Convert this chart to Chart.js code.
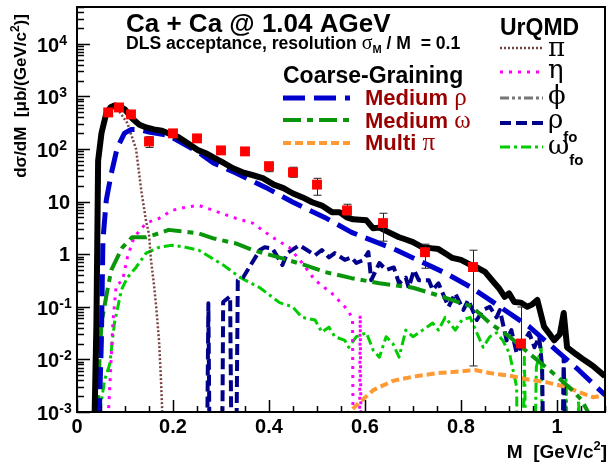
<!DOCTYPE html>
<html>
<head>
<meta charset="utf-8">
<script src="https://cdn.jsdelivr.net/npm/chart.js@4.4.1/dist/chart.umd.min.js"></script>
<style>
  html, body { margin: 0; padding: 0; background: #fff; overflow: hidden; }
  canvas { display: block; }
</style>
</head>
<body>
<canvas id="dilepton" width="612" height="467"></canvas>
<script>
// DLS data points (dsigma/dM in mub/(GeV/c^2)) with lower / upper error bounds
const massBins = [0.065, 0.0875, 0.1125, 0.15, 0.2, 0.25, 0.3, 0.35, 0.4, 0.45, 0.5, 0.5625, 0.6375, 0.725, 0.825, 0.925];
const dlsYield = [495, 616, 454, 139, 198, 159, 94, 90, 47, 36, 21, 6.8, 3.9, 1.09, 0.57, 0.020];
const dlsLow   = [440, 560, 410, 107, 180, 145, 86, 82, 37, 29, 13.2, 5.5, 1.77, 0.54, 0.0075, 0.0001];
const dlsHigh  = [550, 680, 500, 171, 216, 173, 102, 98, 56, 45, 27.7, 8.9, 6.0, 1.55, 1.19, 0.099];

// sum of all contributions
const totalM = [0.0365, 0.0405, 0.044, 0.051, 0.061, 0.070, 0.078, 0.090, 0.100, 0.115, 0.130, 0.144, 0.160, 0.177, 0.195, 0.210, 0.230, 0.253, 0.270, 0.284, 0.300, 0.325, 0.345, 0.365, 0.387, 0.410, 0.430, 0.449, 0.470, 0.490, 0.510, 0.531, 0.547, 0.562, 0.575, 0.603, 0.617, 0.630, 0.650, 0.671, 0.685, 0.700, 0.720, 0.741, 0.753, 0.770, 0.782, 0.800, 0.815, 0.830, 0.850, 0.870, 0.880, 0.891, 0.900, 0.911, 0.925, 0.938, 0.948, 0.959, 0.973, 0.985, 0.994, 1.006, 1.014, 1.021, 1.040, 1.056, 1.075, 1.100];
const totalV = [0.0007, 0.05, 60, 200, 475, 620, 670, 640, 560, 380, 290, 257, 235, 222, 190, 170, 130, 94, 82, 69, 58, 43, 36, 32, 28, 21, 18, 14.4, 12, 9.7, 8.4, 6.3, 6.3, 5.0, 4.6, 4.4, 3.1, 3.2, 2.6, 2.1, 1.9, 1.7, 1.35, 1.29, 1.25, 1.0, 0.85, 0.78, 0.66, 0.58, 0.46, 0.28, 0.22, 0.155, 0.18, 0.123, 0.12, 0.10, 0.11, 0.135, 0.042, 0.03, 0.023, 0.03, 0.076, 0.017, 0.0125, 0.0098, 0.0075, 0.0048];

// coarse-graining: in-medium rho
const medRhoM = [0.046, 0.0508, 0.054, 0.061, 0.0714, 0.084, 0.099, 0.113, 0.130, 0.150, 0.191, 0.253, 0.284, 0.331, 0.393, 0.449, 0.516, 0.572, 0.665, 0.767, 0.819, 0.860, 0.942, 0.998, 1.045, 1.100];
const medRhoV = [0.0007, 0.023, 1.85, 10.6, 34, 107, 200, 235, 235, 210, 180, 87, 54, 35, 18.6, 9.8, 5.0, 2.6, 1.2, 0.44, 0.24, 0.135, 0.042, 0.015, 0.0063, 0.0021];

// coarse-graining: in-medium omega
const medOmegaM = [0.043, 0.047, 0.051, 0.061, 0.0714, 0.0817, 0.0947, 0.115, 0.144, 0.171, 0.191, 0.212, 0.253, 0.284, 0.331, 0.366, 0.428, 0.475, 0.516, 0.572, 0.630, 0.700, 0.767, 0.823, 0.860, 0.901, 0.942, 0.984, 1.025, 1.051, 1.066];
const medOmegaV = [0.00095, 0.011, 0.049, 0.16, 0.50, 0.78, 1.35, 2.1, 2.1, 2.5, 2.9, 2.75, 2.5, 2.0, 1.6, 1.2, 0.83, 0.62, 0.46, 0.35, 0.28, 0.23, 0.15, 0.10, 0.049, 0.027, 0.013, 0.0063, 0.003, 0.0017, 0.00095];

// coarse-graining: multi-pion
const multiPiM = [0.556, 0.588, 0.617, 0.658, 0.700, 0.753, 0.788, 0.829, 0.860, 0.901, 0.942, 0.977, 1.019, 1.045, 1.076, 1.100];
const multiPiV = [0.0008, 0.0015, 0.0026, 0.0039, 0.0047, 0.0055, 0.0058, 0.0063, 0.0055, 0.0049, 0.0041, 0.0037, 0.003, 0.0024, 0.0019, 0.0021];

// UrQMD pi0 Dalitz
const piM = [0.068, 0.076, 0.088, 0.105, 0.123, 0.134, 0.144, 0.150, 0.154, 0.160, 0.165, 0.171, 0.175, 0.178];
const piV = [520, 600, 520, 309, 100, 16, 4.2, 2.4, 0.8, 0.28, 0.1, 0.022, 0.004, 0.0008];

// UrQMD eta Dalitz
const etaM = [0.065, 0.0714, 0.0747, 0.0817, 0.0947, 0.105, 0.119, 0.144, 0.171, 0.198, 0.226, 0.253, 0.284, 0.325, 0.366, 0.407, 0.442, 0.469, 0.496, 0.531, 0.558, 0.574, 0.578, 0.585, 0.590, 0.596];
const etaV = [0.0008, 0.011, 0.049, 0.26, 0.31, 0.87, 2.1, 3.9, 4.8, 6.8, 7.8, 8.5, 6.8, 5.0, 3.9, 2.1, 1.35, 0.68, 0.32, 0.18, 0.10, 0.062, 1e-9, 1e-9, 0.07, 1e-9];

// UrQMD freeze-out rho
const rhoFoM = [0.266, 0.2737, 0.281, 0.299, 0.3045, 0.319, 0.327, 0.335, 0.346, 0.381, 0.391, 0.407, 0.428, 0.438, 0.463, 0.479, 0.496, 0.510, 0.525, 0.537, 0.558, 0.572, 0.582, 0.597, 0.607, 0.613, 0.630, 0.644, 0.660, 0.671, 0.685, 0.691, 0.702, 0.712, 0.733, 0.741, 0.753, 0.774, 0.788, 0.805, 0.815, 0.833, 0.846, 0.860, 0.874, 0.881, 0.895, 0.905, 0.916, 0.928, 0.942, 0.953, 0.963, 0.969, 0.979, 1.004, 1.014, 1.025];
const rhoFoV = [1e-9, 0.117, 1e-9, 1e-9, 0.123, 0.158, 1e-9, 0.32, 0.36, 1.2, 1.35, 1.29, 0.62, 1.05, 1.48, 1.2, 0.95, 1.2, 0.87, 1.05, 0.78, 0.87, 0.68, 0.78, 1.1, 0.32, 0.68, 0.50, 0.56, 0.28, 0.36, 0.23, 0.50, 0.32, 0.32, 0.21, 0.28, 0.10, 0.18, 0.087, 0.135, 0.056, 0.087, 0.10, 0.063, 0.087, 0.023, 0.036, 0.013, 0.020, 0.032, 0.017, 0.027, 0.0072, 1e-9, 1e-9, 0.011, 1e-9];

// UrQMD freeze-out omega
const omegaFoM = [0.047, 0.0576, 0.068, 0.078, 0.0926, 0.105, 0.123, 0.144, 0.171, 0.198, 0.226, 0.253, 0.305, 0.340, 0.381, 0.422, 0.449, 0.469, 0.496, 0.510, 0.525, 0.537, 0.558, 0.566, 0.582, 0.603, 0.617, 0.630, 0.644, 0.658, 0.671, 0.685, 0.700, 0.720, 0.741, 0.753, 0.767, 0.788, 0.802, 0.819, 0.846, 0.860, 0.874, 0.887, 0.901, 0.916, 0.921, 0.932, 0.944, 0.957, 0.967, 0.977, 1.014, 1.019, 1.031, 1.045, 1.060];
const omegaFoV = [0.00095, 0.0041, 0.008, 0.049, 0.21, 0.36, 0.56, 1.05, 1.35, 1.48, 1.35, 1.2, 0.62, 0.36, 0.23, 0.12, 0.10, 0.063, 0.056, 0.033, 0.041, 0.027, 0.023, 0.017, 0.027, 0.032, 0.015, 0.011, 0.027, 0.020, 0.011, 0.036, 0.027, 0.036, 0.049, 0.036, 0.063, 0.036, 0.056, 0.063, 0.017, 0.027, 0.032, 0.023, 0.013, 0.003, 1e-9, 0.011, 1e-9, 0.0072, 0.017, 1e-9, 1e-9, 0.0041, 1e-9, 0.0017, 1e-9];

const xTickLabels = ['0', '0.2', '0.4', '0.6', '0.8', '1'];
const yDecades = [-3, -2, -1, 0, 1, 2, 3, 4];

const BOLD = s => `bold ${s}px "Liberation Sans", Arial, sans-serif`;
const SERIF = s => `${s}px "Liberation Serif", "DejaVu Serif", serif`;
const SYMB = s => `${s}px "DejaVu Serif", "Liberation Serif", serif`;
const DARKRED = '#990000';

const STYLE = {
  total:    { color: '#000000', width: 6, dash: [] },
  medRho:   { color: '#0000cd', width: 5, dash: [22, 9] },
  medOmega: { color: '#0a960a', width: 4, dash: [18, 6, 6, 6] },
  multiPi:  { color: '#ff9933', width: 4, dash: [8, 4] },
  pi:       { color: '#7a4444', width: 2.5, dash: [2, 2] },
  eta:      { color: '#ff00ff', width: 3, dash: [3, 6] },
  phi:      { color: '#777777', width: 3, dash: [9, 3, 3, 3, 3, 3] },
  rhoFo:    { color: '#00008b', width: 4, dash: [11, 5] },
  omegaFo:  { color: '#00cc00', width: 3, dash: [10, 4, 3, 4] }
};

function curve(label, xs, ys, st) {
  return {
    label,
    data: xs.map((m, i) => ({ x: m, y: ys[i] })),
    showLine: true,
    borderColor: st.color,
    borderWidth: st.width,
    borderDash: st.dash,
    borderJoinStyle: 'round',
    pointRadius: 0,
    tension: 0,
    fill: false,
    clip: 0
  };
}

function drawRuns(ctx, x, y, runs, align) {
  let w = 0;
  runs.forEach(r => { ctx.font = r.f; w += ctx.measureText(r.t).width; });
  let cx = align === 'right' ? x - w : align === 'center' ? x - w / 2 : x;
  runs.forEach(r => {
    ctx.font = r.f;
    ctx.fillStyle = r.c || '#000';
    ctx.fillText(r.t, cx, y + (r.dy || 0));
    cx += ctx.measureText(r.t).width;
  });
}

function legendLine(ctx, x0, x1, y, st) {
  ctx.save();
  ctx.strokeStyle = st.color;
  ctx.lineWidth = st.width;
  ctx.setLineDash(st.dash);
  ctx.beginPath();
  ctx.moveTo(x0, y);
  ctx.lineTo(x1, y);
  ctx.stroke();
  ctx.restore();
}

const rootStyle = {
  id: 'rootStyle',
  // error bars go over the curves but under the markers
  afterDatasetDraw(chart, args) {
    if (args.index !== 1) return;
    const { ctx, chartArea: a, scales: { x, y } } = chart;
    ctx.save();
    ctx.beginPath();
    ctx.rect(a.left, a.top, a.right - a.left, a.bottom - a.top);
    ctx.clip();
    ctx.strokeStyle = '#222';
    ctx.lineWidth = 1;
    massBins.forEach((m, i) => {
      const px = Math.round(x.getPixelForValue(m)) + 0.5;
      const yHi = y.getPixelForValue(dlsHigh[i]);
      const yLo = Math.min(y.getPixelForValue(dlsLow[i]), a.bottom);
      ctx.beginPath();
      ctx.moveTo(px, yHi);
      ctx.lineTo(px, yLo);
      ctx.moveTo(px - 4, yHi);
      ctx.lineTo(px + 4, yHi);
      if (yLo < a.bottom - 1) {
        ctx.moveTo(px - 4, yLo);
        ctx.lineTo(px + 4, yLo);
      }
      ctx.stroke();
    });
    ctx.restore();
  },
  afterDatasetsDraw(chart) {
    const { ctx, chartArea: a, scales: { x, y } } = chart;
    ctx.save();
    ctx.strokeStyle = '#000';
    ctx.lineWidth = 2;
    ctx.strokeRect(a.left, a.top, a.right - a.left, a.bottom - a.top);

    // log ticks on the left axis
    ctx.lineWidth = 1.5;
    ctx.beginPath();
    for (let e = -3; e <= 4; e++) {
      for (let k = 1; k <= 9; k++) {
        const v = k * Math.pow(10, e);
        if (v > y.max) break;
        const py = Math.round(y.getPixelForValue(v)) + 0.5;
        ctx.moveTo(a.left, py);
        ctx.lineTo(a.left + (k === 1 ? 13 : 7), py);
      }
    }
    // mass ticks on the bottom axis
    for (let i = 0; i * 0.05 <= x.max + 1e-9; i++) {
      const px = Math.round(x.getPixelForValue(i * 0.05)) + 0.5;
      ctx.moveTo(px, a.bottom);
      ctx.lineTo(px, a.bottom - (i % 4 === 0 ? 12 : 6));
    }
    ctx.stroke();
    ctx.restore();
  },
  afterDraw(chart) {
    const { ctx, scales: { x, y } } = chart;
    ctx.save();
    ctx.textBaseline = 'alphabetic';

    // axis numbers
    xTickLabels.forEach((t, i) => {
      drawRuns(ctx, x.getPixelForValue(i * 0.2), 433, [{ t, f: BOLD(20) }], 'center');
    });
    yDecades.forEach(e => {
      const py = y.getPixelForValue(Math.pow(10, e));
      if (e === 0) drawRuns(ctx, 70, py + 7, [{ t: '1', f: BOLD(20) }], 'right');
      else if (e === 1) drawRuns(ctx, 70, py + 7, [{ t: '10', f: BOLD(20) }], 'right');
      else drawRuns(ctx, 37, py + 8, [
        { t: '10', f: BOLD(20) },
        { t: e < 0 ? '-' + (-e) : String(e), f: BOLD(14), dy: -7 }
      ], 'left');
    });

    // axis titles
    drawRuns(ctx, 607, 458, [
      { t: 'M  [GeV/c', f: BOLD(19) },
      { t: '2', f: BOLD(13), dy: -8 },
      { t: ']', f: BOLD(19) }
    ], 'right');
    ctx.save();
    ctx.translate(26, 96);
    ctx.rotate(-Math.PI / 2);
    drawRuns(ctx, 0, 0, [
      { t: 'd\u03c3/dM  [\u03bcb/(GeV/c', f: BOLD(17) },
      { t: '2', f: BOLD(12), dy: -7 },
      { t: ')]', f: BOLD(17) }
    ], 'center');
    ctx.restore();

    // header
    drawRuns(ctx, 126, 32, [{ t: 'Ca + Ca @ 1.04 AGeV', f: BOLD(26) }], 'left');
    drawRuns(ctx, 126, 49, [
      { t: 'DLS acceptance, resolution ', f: BOLD(17.6) },
      { t: '\u03c3', f: SERIF(20) },
      { t: 'M', f: BOLD(11), dy: 4 },
      { t: ' / M  = 0.1', f: BOLD(17.6) }
    ], 'left');

    // coarse-graining legend
    drawRuns(ctx, 283, 83, [{ t: 'Coarse-Graining', f: BOLD(23) }], 'left');
    [
      ['Medium ', '\u03c1', STYLE.medRho, 98, 105],
      ['Medium ', '\u03c9', STYLE.medOmega, 120, 128],
      ['Multi ', '\u03c0', STYLE.multiPi, 143, 150]
    ].forEach(([word, sym, st, ly, base]) => {
      legendLine(ctx, 283, 350, ly, st);
      drawRuns(ctx, 365, base, [
        { t: word, f: BOLD(22), c: DARKRED },
        { t: sym, f: SERIF(25), c: DARKRED }
      ], 'left');
    });

    // UrQMD legend
    drawRuns(ctx, 500, 35, [{ t: 'UrQMD', f: BOLD(23) }], 'left');
    [
      ['\u03c0', '', STYLE.pi, 48, 56, 0],
      ['\u03b7', '', STYLE.eta, 72, 78, 0],
      ['\u03d5', '', STYLE.phi, 98, 104, 0],
      ['\u03c1', 'fo', STYLE.rhoFo, 123, 128, 14],
      ['\u03c9', 'fo', STYLE.omegaFo, 147, 154, 11]
    ].forEach(([sym, sub, st, ly, base, subDy]) => {
      legendLine(ctx, 500, 543, ly, st);
      const runs = [{ t: sym, f: SYMB(26) }];
      if (sub) runs.push({ t: sub, f: BOLD(15), dy: subDy });
      drawRuns(ctx, 548, base, runs, 'left');
    });
    ctx.restore();
  }
};

new Chart(document.getElementById('dilepton'), {
  type: 'scatter',
  data: {
    datasets: [
      {
        label: 'DLS',
        data: massBins.map((m, i) => ({ x: m, y: dlsYield[i] })),
        pointStyle: 'rect',
        pointRadius: 7,
        pointBorderWidth: 0,
        backgroundColor: '#ff0000',
        borderColor: '#ff0000',
        clip: 0
      },
      curve('Sum', totalM, totalV, STYLE.total),
      curve('Medium rho', medRhoM, medRhoV, STYLE.medRho),
      curve('Medium omega', medOmegaM, medOmegaV, STYLE.medOmega),
      curve('Multi pi', multiPiM, multiPiV, STYLE.multiPi),
      curve('pi', piM, piV, STYLE.pi),
      curve('eta', etaM, etaV, STYLE.eta),
      curve('rho fo', rhoFoM, rhoFoV, STYLE.rhoFo),
      curve('omega fo', omegaFoM, omegaFoV, STYLE.omegaFo)
    ]
  },
  options: {
    responsive: false,
    devicePixelRatio: 1,
    animation: false,
    events: [],
    layout: { padding: { top: 5, left: 0, right: 0, bottom: 0 } },
    plugins: { legend: { display: false }, tooltip: { enabled: false } },
    scales: {
      x: {
        type: 'linear',
        min: 0,
        max: 1.1,
        grid: { display: false },
        border: { display: false },
        ticks: { display: false },
        afterFit: s => { s.height = 55; }
      },
      y: {
        type: 'logarithmic',
        min: 1e-3,
        max: 5e4,
        grid: { display: false },
        border: { display: false },
        ticks: { display: false },
        afterFit: s => { s.width = 77; }
      }
    }
  },
  plugins: [rootStyle]
});
</script>
</body>
</html>
